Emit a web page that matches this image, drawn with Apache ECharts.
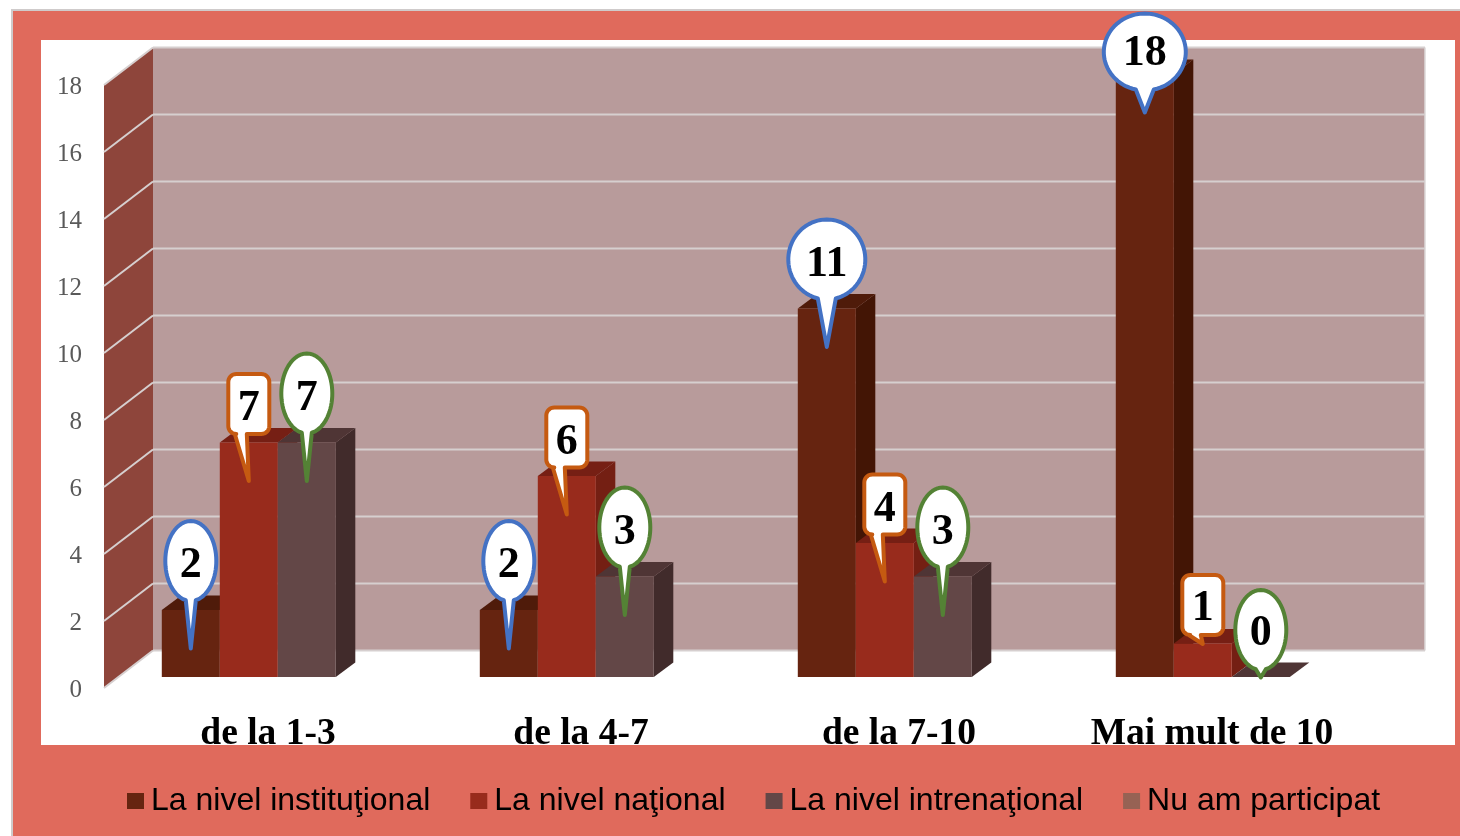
<!DOCTYPE html>
<html><head><meta charset="utf-8">
<style>html,body{margin:0;padding:0;background:#fff}#c{width:1460px;height:836px}</style>
<script src="https://cdn.jsdelivr.net/npm/echarts@6/dist/echarts.min.js"></script>
</head><body><div id="c"></div>
<script>
const categories = ['de la 1-3', 'de la 4-7', 'de la 7-10', 'Mai mult de 10'];
const instituțional = [2, 2, 11, 18];
const național = [7, 6, 4, 1];
const internațional = [7, 3, 3, 0];
const nuAmParticipat = [];
const yTicks = [0, 2, 4, 6, 8, 10, 12, 14, 16, 18];

const SERIF = '"Liberation Serif","Times New Roman",serif';
const WALL = {dx: 49, dy: -37.5, back: '#B89B9B', side: '#8E453B', line: '#D6CFCF'};
const BAR = {dx: 14.8, dy: -11, slots: 4, ratio: 58 / 318, depthX: 19.5, depthY: -14.5};
const STYLES = [
  {name: 'La nivel instituţional', data: instituțional, front: '#662410', top: '#4F1B0A', side: '#431505', pin: '#4472C4', shape: 'oval'},
  {name: 'La nivel naţional', data: național, front: '#982B1C', top: '#761F14', side: '#741F13', pin: '#C55A11', shape: 'rect'},
  {name: 'La nivel intrenaţional', data: internațional, front: '#634747', top: '#4F3535', side: '#412B2B', pin: '#548235', shape: 'oval'},
  {name: 'Nu am participat', data: nuAmParticipat, front: '#976254', top: '#7A4E43', side: '#6A4338', pin: '#888', shape: 'oval'}
];
const CATEGORY_NUDGE = [5, 0, 0, -5];

function barGeom(api, seriesIdx) {
  const band = api.size([1, 0])[0];
  const w = band * BAR.ratio;
  const p0 = api.coord([api.value(0), 0]);
  const p1 = api.coord([api.value(0), api.value(1)]);
  const x = p0[0] + BAR.dx + (seriesIdx - BAR.slots / 2) * w;
  return {x, w, base: p0[1] + BAR.dy, top: p1[1] + BAR.dy};
}

function renderWall(params, api) {
  const c = params.coordSys;
  const l = c.x, r = c.x + c.width, b = c.y + c.height;
  const children = [
    {type: 'rect', shape: {x: l + WALL.dx, y: c.y + WALL.dy, width: c.width, height: c.height}, style: {fill: WALL.back}},
    {type: 'polygon', shape: {points: [[l, b], [l + WALL.dx, b + WALL.dy], [l + WALL.dx, c.y + WALL.dy], [l, c.y]]}, style: {fill: WALL.side}},
    {type: 'line', shape: {x1: r + WALL.dx, y1: c.y + WALL.dy, x2: r + WALL.dx, y2: b + WALL.dy}, style: {stroke: '#DDD8D8', lineWidth: 1.5}}
  ];
  yTicks.forEach(t => {
    const y = api.coord([0, t])[1];
    children.push({type: 'line', shape: {x1: l, y1: y, x2: l + WALL.dx, y2: y + WALL.dy}, style: {stroke: WALL.line, lineWidth: 2}});
    children.push({type: 'line', shape: {x1: l + WALL.dx, y1: y + WALL.dy, x2: r + WALL.dx, y2: y + WALL.dy}, style: {stroke: WALL.line, lineWidth: 2}});
  });
  return {type: 'group', children};
}

function renderBar(seriesIdx) {
  return function (params, api) {
    const g = barGeom(api, seriesIdx), s = STYLES[seriesIdx];
    const dx = BAR.depthX, dy = BAR.depthY, R = g.x + g.w;
    return {type: 'group', children: [
      {type: 'polygon', shape: {points: [[R, g.base], [R + dx, g.base + dy], [R + dx, g.top + dy], [R, g.top]]}, style: {fill: s.side}},
      {type: 'polygon', shape: {points: [[g.x, g.top], [R, g.top], [R + dx, g.top + dy], [g.x + dx, g.top + dy]]}, style: {fill: s.top}},
      {type: 'rect', shape: {x: g.x, y: g.top, width: g.w, height: g.base - g.top}, style: {fill: s.front}}
    ]};
  };
}

function ovalPoints(cx, cy, rx, ry, tipX, tipY, halfBase) {
  const a0 = Math.asin(Math.min(1, halfBase / rx));
  const pts = [];
  const N = 72;
  for (let i = 0; i <= N; i++) {
    const a = Math.PI / 2 - a0 - (Math.PI * 2 - 2 * a0) * i / N;
    pts.push([cx + rx * Math.cos(a), cy + ry * Math.sin(a)]);
  }
  pts.push([tipX, tipY]);
  return pts;
}

function rectPoints(cx, cy, hw, hh, rad, tipX, tipY) {
  const pts = [];
  const arc = (ox, oy, start) => {
    for (let i = 0; i <= 8; i++) {
      const a = start + (Math.PI / 2) * i / 8;
      pts.push([ox + rad * Math.cos(a), oy + rad * Math.sin(a)]);
    }
  };
  pts.push([cx - 2, cy + hh]);
  pts.push([tipX, tipY]);
  pts.push([cx - 14, cy + hh]);
  arc(cx - hw + rad, cy + hh - rad, Math.PI / 2);
  arc(cx - hw + rad, cy - hh + rad, Math.PI);
  arc(cx + hw - rad, cy - hh + rad, Math.PI * 1.5);
  arc(cx + hw - rad, cy + hh - rad, 0);
  return pts;
}

function renderPin(seriesIdx) {
  return function (params, api) {
    const g = barGeom(api, seriesIdx), s = STYLES[seriesIdx];
    const v = api.value(1);
    const tall = v >= 2;
    const tipX = g.x + g.w / 2;
    const tipY = g.top + (tall ? 38.5 : 0.5);
    const label = String(v);
    let pts, cx = tipX, cy, textShift = tall ? 5 : 3.5;
    if (s.shape === 'oval') {
      const wanted = tipY - (tall ? 87.5 : 47.5);
      cy = Math.max(52, wanted);
      const squeezed = cy > wanted;
      if (squeezed) textShift = 2;
      const ry = squeezed ? 38.5 : 40;
      const rx = label.length > 1 ? (v > 15 ? 41 : 38.5) : 25.5;
      pts = ovalPoints(cx, cy, rx, ry, tipX, tipY, rx > 30 ? 9 : 5);
    } else {
      cy = tipY - (tall ? 77 : 39);
      pts = rectPoints(cx, cy, 20.5, 30, 8, tipX, tipY);
    }
    return {type: 'group', children: [
      {type: 'polygon', shape: {points: pts}, style: {fill: '#fff', stroke: s.pin, lineWidth: 4, lineJoin: 'round'}},
      {type: 'text', x: cx, y: cy + textShift, style: {text: label, fill: '#000', font: 'bold 44px ' + SERIF, align: 'center', verticalAlign: 'middle'}}
    ]};
  };
}

const toData = arr => arr.map((v, i) => [i, v]);

const series = [{
  type: 'custom', coordinateSystem: 'cartesian2d', z: 1, silent: true,
  renderItem: renderWall, data: [[0, 0]], encode: {x: 0, y: 1}
}];
STYLES.forEach((s, i) => series.push({
  name: s.name, type: 'custom', coordinateSystem: 'cartesian2d', z: 2 + i,
  renderItem: renderBar(i), data: toData(s.data), encode: {x: 0, y: 1},
  itemStyle: {color: s.front}
}));
STYLES.forEach((s, i) => series.push({
  type: 'custom', coordinateSystem: 'cartesian2d', z: 10 + i,
  renderItem: renderPin(i), data: toData(s.data), encode: {x: 0, y: 1}
}));

const chart = echarts.init(document.getElementById('c'), null, {renderer: 'canvas'});
chart.setOption({
  animation: false,
  backgroundColor: '#fff',
  graphic: {elements: [
    {type: 'rect', z: -10, shape: {x: 12, y: 10, width: 1460, height: 840}, style: {fill: '#E06A5C', stroke: '#CFCBCB', lineWidth: 2}},
    {type: 'rect', z: -9, shape: {x: 41, y: 40, width: 1414, height: 705}, style: {fill: '#fff'}}
  ]},
  legend: {
    left: 127, top: 785, padding: 0, icon: 'rect', itemWidth: 17, itemHeight: 16, itemGap: 40, selectedMode: false,
    data: STYLES.map(s => s.name),
    textStyle: {color: '#000', fontSize: 32, fontFamily: '"Liberation Sans",Arial,sans-serif', padding: [0, 0, 0, 2]}
  },
  grid: {left: 104, right: 84, top: 85, bottom: 148, containLabel: false},
  xAxis: {
    type: 'category',
    data: categories.map((c, i) => ({
      value: c,
      textStyle: {padding: CATEGORY_NUDGE[i] > 0 ? [0, 0, 0, 2 * CATEGORY_NUDGE[i]] : [0, -2 * CATEGORY_NUDGE[i], 0, 0]}
    })),
    axisLine: {show: false}, axisTick: {show: false},
    axisLabel: {color: '#000', fontFamily: SERIF, fontWeight: 'bold', fontSize: 37.5, margin: 27, interval: 0}
  },
  yAxis: {
    type: 'value', min: 0, max: 18, interval: 2,
    axisLine: {show: false}, axisTick: {show: false}, splitLine: {show: false},
    axisLabel: {color: '#595959', fontFamily: SERIF, fontSize: 25, margin: 22, verticalAlign: 'top', lineHeight: 4}
  },
  series
});
</script></body></html>
